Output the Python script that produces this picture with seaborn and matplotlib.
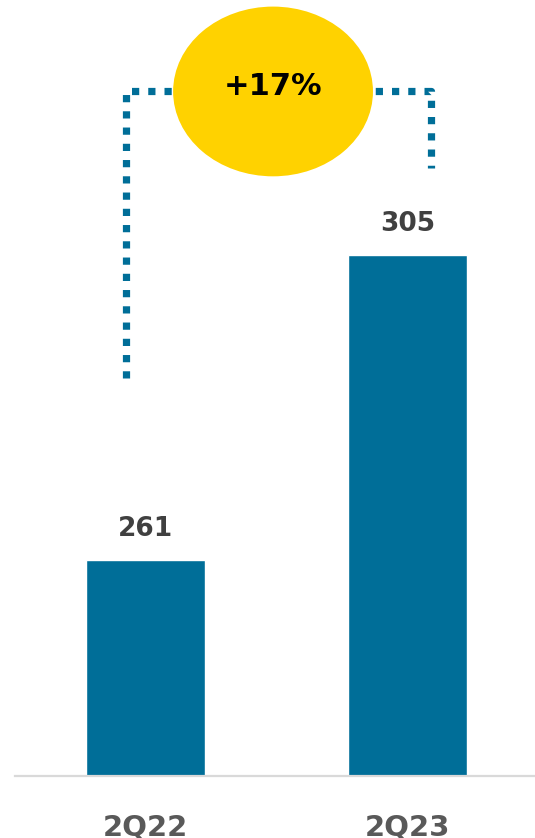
import matplotlib
matplotlib.use("Agg")
import matplotlib.pyplot as plt
from matplotlib.patches import Ellipse
import seaborn as sns
import pandas as pd

# Quarterly values
quarters = ["2Q22", "2Q23"]
values = [261, 305]
growth_label = "+17%"

# Bracket geometry (data units): x positions of the two legs and their lower ends
bracket_top = 328.7
left_leg_x, left_leg_bottom = -0.075, 287.3
right_leg_x, right_leg_bottom = 1.09, 317.5

BAR_COLOR = "#006E98"
BADGE_COLOR = "#FFD200"

sns.set_theme(style="white")
plt.rcParams["font.family"] = ["DejaVu Sans"]

df = pd.DataFrame({"quarter": quarters, "value": values})

fig = plt.figure(figsize=(5.35, 8.38), dpi=100)
ax = fig.add_axes([15 / 535, 1 - 776 / 838, 1 - 15 / 535, 776 / 838])

sns.barplot(data=df, x="quarter", y="value", color=BAR_COLOR, width=0.452,
            saturation=1, ax=ax)

ax.set_ylim(229.8, 341.8)
ax.set_xlim(-0.498, 1.487)

for container in ax.containers:
    ax.bar_label(container, labels=[str(v) for v in values], padding=13,
                 fontsize=19, fontweight="bold", color="#404040")

# Dotted bracket connecting the two bars
dot_style = dict(color=BAR_COLOR, linewidth=5.2, linestyle=(0, (1, 1.25)),
                 dash_capstyle="butt", zorder=3)
ax.plot([left_leg_x, left_leg_x, right_leg_x, right_leg_x],
        [left_leg_bottom, bracket_top, bracket_top, right_leg_bottom],
        **dot_style)

# Growth badge
badge = Ellipse((0.487, 328.6), width=0.763, height=24.5,
                facecolor=BADGE_COLOR, edgecolor="none", zorder=4)
ax.add_patch(badge)
ax.text(0.487, 329.3, growth_label, ha="center", va="center",
        fontsize=22, fontweight="heavy", color="black", zorder=5)

# Axis styling
for side in ["top", "left", "right"]:
    ax.spines[side].set_visible(False)
ax.spines["bottom"].set_color("#D9D9D9")
ax.spines["bottom"].set_linewidth(1.6)
ax.set_yticks([])
ax.set_xlabel("")
ax.set_ylabel("")
ax.tick_params(axis="x", length=0, pad=27, labelsize=21, labelcolor="#595959")
for lbl in ax.get_xticklabels():
    lbl.set_fontweight("bold")

fig.savefig("out.png", dpi=100)
